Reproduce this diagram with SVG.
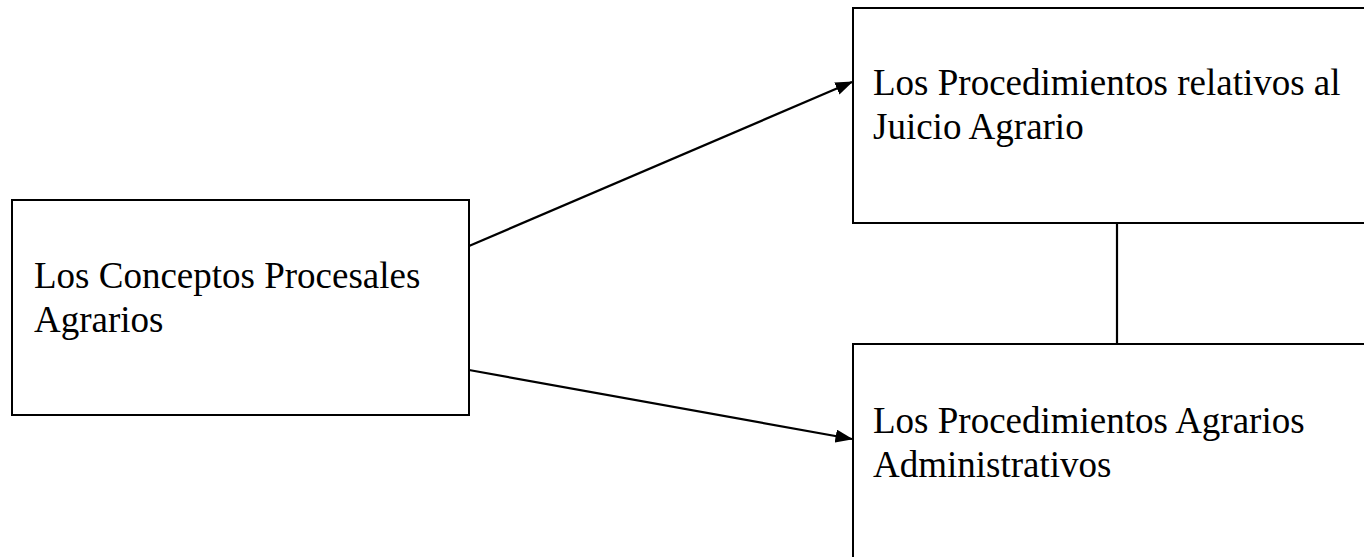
<svg xmlns="http://www.w3.org/2000/svg" width="1364" height="557" viewBox="0 0 1364 557">
<style>
.box{fill:#fff;stroke:#000;stroke-width:2}
.lbl{font-family:"Liberation Serif","Times New Roman",serif;font-size:37px;fill:#000}
.con{stroke:#000;stroke-width:2.2;fill:none}
</style>
<defs>
<marker id="ah" markerWidth="8" markerHeight="6" refX="7.5" refY="3" orient="auto" markerUnits="strokeWidth">
<path d="M0,0 L8,3 L0,6 Z" fill="#000"/>
</marker>
</defs>
<rect width="1364" height="557" fill="#fff"/>
<g id="connectors">
<line class="con" x1="469" y1="246" x2="852" y2="82" marker-end="url(#ah)"/>
<line class="con" x1="469" y1="370" x2="852" y2="439" marker-end="url(#ah)"/>
<line class="con" x1="1117" y1="223" x2="1117" y2="344"/>
</g>
<g id="node-conceptos">
<rect class="box" x="12" y="200" width="457" height="215"/>
<text class="lbl" x="34" y="288">Los Conceptos Procesales</text>
<text class="lbl" x="34" y="332">Agrarios</text>
</g>
<g id="node-juicio">
<rect class="box" x="853" y="8" width="530" height="215"/>
<text class="lbl" x="873" y="95">Los Procedimientos relativos al</text>
<text class="lbl" x="873" y="139">Juicio Agrario</text>
</g>
<g id="node-administrativos">
<rect class="box" x="853" y="344" width="530" height="230"/>
<text class="lbl" x="873" y="433">Los Procedimientos Agrarios</text>
<text class="lbl" x="873" y="477">Administrativos</text>
</g>
</svg>
